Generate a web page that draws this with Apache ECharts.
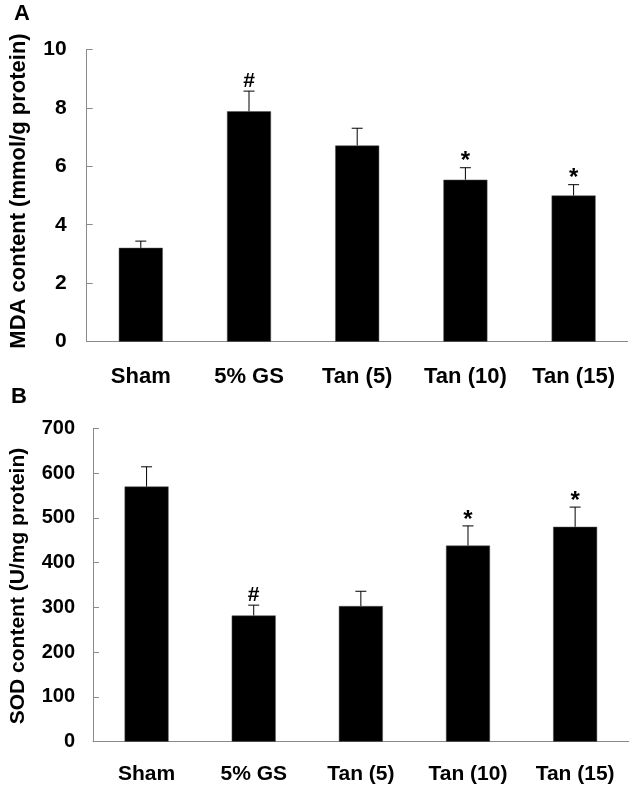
<!DOCTYPE html>
<html>
<head>
<meta charset="utf-8">
<script src="https://cdn.jsdelivr.net/npm/echarts@6/dist/echarts.min.js"></script>
<style>
html,body{margin:0;padding:0;background:#fff;}
#chart{width:636px;height:793px;}
</style>
</head>
<body>
<div id="chart"></div>
<script>
var categories = ['Sham', '5% GS', 'Tan (5)', 'Tan (10)', 'Tan (15)'];
var mdaMean = [3.21, 7.88, 6.71, 5.54, 5.00];
var mdaErr = [0.23, 0.69, 0.59, 0.41, 0.37];
var mdaMarks = ['', '#', '', '*', '*'];
var sodMean = [570, 282, 303, 438, 480];
var sodErr = [44, 23, 33, 44, 44];
var sodMarks = ['', '#', '', '*', '*'];
var mdaTicks = {min: 0, max: 10, interval: 2};
var sodTicks = {min: 0, max: 700, interval: 100};

var FONT = '"Liberation Sans", Arial, sans-serif';
var AXIS_COLOR = '#8a8a8a';

function errData(means, errs) {
  return means.map(function (m, i) { return [i, m, errs[i]]; });
}
function makeErrRender(marks) {
  return function (params, api) {
    var x = api.value(0), m = api.value(1), e = api.value(2);
    var p0 = api.coord([x, m]);
    var p1 = api.coord([x, m + e]);
    var cap = 5.5;
    var children = [
      {type: 'line', shape: {x1: p0[0], y1: p0[1], x2: p1[0], y2: p1[1]}, style: {stroke: '#000', lineWidth: 1}},
      {type: 'line', shape: {x1: p1[0] - cap, y1: p1[1], x2: p1[0] + cap, y2: p1[1]}, style: {stroke: '#000', lineWidth: 1}}
    ];
    var mk = marks[params.dataIndex];
    if (mk) {
      children.push({
        type: 'text',
        style: {
          text: mk, x: p1[0], y: mk === '*' ? p1[1] + 6 : p1[1] + 1,
          textAlign: 'center', textVerticalAlign: 'bottom',
          font: 'bold ' + (mk === '*' ? 24 : 21) + 'px ' + FONT, fill: '#000'
        }
      });
    }
    return {type: 'group', children: children};
  };
}

var chart = echarts.init(document.getElementById('chart'), null, {renderer: 'canvas'});

function xAxisCfg(gi, fs, margin) {
  return {
    type: 'category', gridIndex: gi, data: categories,
    axisLine: {lineStyle: {color: AXIS_COLOR, width: 1}},
    axisTick: {inside: true, length: 6, lineStyle: {color: AXIS_COLOR}},
    axisLabel: {color: '#000', fontWeight: 'bold', fontSize: fs, fontFamily: FONT, margin: margin, interval: 0}
  };
}
function yAxisCfg(gi, t, fs, margin) {
  return {
    type: 'value', gridIndex: gi, min: t.min, max: t.max, interval: t.interval,
    splitLine: {show: false},
    axisLine: {show: true, lineStyle: {color: AXIS_COLOR, width: 1}},
    axisTick: {show: true, inside: true, length: 6, lineStyle: {color: AXIS_COLOR}},
    axisLabel: {color: '#000', fontWeight: 'bold', fontSize: fs, fontFamily: FONT, margin: margin}
  };
}

var option = {
  backgroundColor: '#fff',
  animation: false,
  grid: [
    {left: 86.7, right: 8.3, top: 49.3, height: 292.4},
    {left: 93, right: 7.3, top: 428.3, height: 313.4}
  ],
  xAxis: [xAxisCfg(0, 22, 24), xAxisCfg(1, 21, 22)],
  yAxis: [yAxisCfg(0, mdaTicks, 21, 20), yAxisCfg(1, sodTicks, 20, 18)],
  graphic: [
    {type: 'text', left: 14, top: 3, style: {text: 'A', font: 'bold 22px ' + FONT, fill: '#000'}},
    {type: 'text', left: 11, top: 386, style: {text: 'B', font: 'bold 22px ' + FONT, fill: '#000'}},
    {type: 'text', x: 19, y: 191, rotation: Math.PI / 2,
      style: {text: 'MDA content (mmol/g protein)', font: 'bold 22px ' + FONT, fill: '#000', textAlign: 'center', textVerticalAlign: 'middle'}},
    {type: 'text', x: 18, y: 586, rotation: Math.PI / 2,
      style: {text: 'SOD content (U/mg protein)', font: 'bold 21px ' + FONT, fill: '#000', textAlign: 'center', textVerticalAlign: 'middle'}}
  ],
  series: [
    {type: 'bar', xAxisIndex: 0, yAxisIndex: 0, data: mdaMean, barWidth: 44,
      itemStyle: {color: '#000', borderColor: '#555', borderWidth: 0.5}},
    {type: 'custom', xAxisIndex: 0, yAxisIndex: 0, data: errData(mdaMean, mdaErr),
      renderItem: makeErrRender(mdaMarks), z: 5},
    {type: 'bar', xAxisIndex: 1, yAxisIndex: 1, data: sodMean, barWidth: 44,
      itemStyle: {color: '#000', borderColor: '#555', borderWidth: 0.5}},
    {type: 'custom', xAxisIndex: 1, yAxisIndex: 1, data: errData(sodMean, sodErr),
      renderItem: makeErrRender(sodMarks), z: 5}
  ]
};
chart.setOption(option);
</script>
</body>
</html>
